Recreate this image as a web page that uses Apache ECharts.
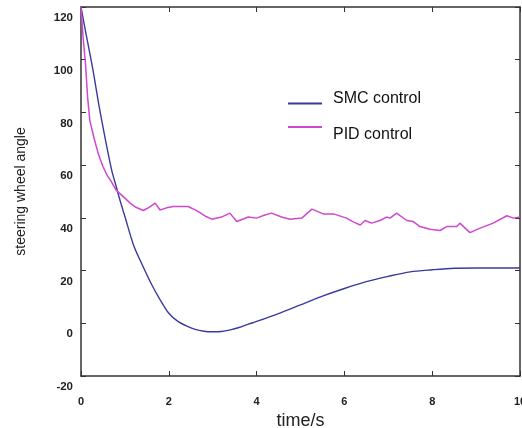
<!DOCTYPE html>
<html>
<head>
<meta charset="utf-8">
<script src="https://cdn.jsdelivr.net/npm/echarts@6/dist/echarts.min.js"></script>
<style>
html,body{margin:0;padding:0;background:#fff;}
#chart{width:522px;height:428px;}
</style>
</head>
<body>
<div id="chart"></div>
<script>
// ---- data ----
const seriesNames = ['SMC control', 'PID control'];
const smcTime  = [0, 0.1, 0.2, 0.3, 0.4, 0.5, 0.6, 0.7, 0.8, 0.9, 1.0, 1.2, 1.4, 1.6, 1.8, 2.0, 2.2, 2.4, 2.6, 2.8, 3.0, 3.2, 3.4, 3.6, 3.8, 4.0, 4.5, 5.0, 5.5, 6.0, 6.5, 7.0, 7.5, 8.0, 8.5, 9.0, 9.5, 10];
const smcValue = [120, 111, 102.5, 93.5, 83.5, 74.5, 66, 58, 52, 46, 40.5, 29.5, 22, 15, 9, 3.8, 0.8, -1, -2.3, -3, -3.2, -3.1, -2.5, -1.6, -0.4, 0.7, 3.7, 7, 10.3, 13.2, 15.8, 17.8, 19.5, 20.3, 20.9, 21, 21, 21];
const pidTime  = [0, 0.05, 0.1, 0.15, 0.2, 0.3, 0.4, 0.5, 0.6, 0.7, 0.8, 0.9, 1.0, 1.12, 1.25, 1.42, 1.55, 1.69, 1.8, 1.95, 2.1, 2.44, 2.6, 2.71, 2.85, 2.98, 3.2, 3.39, 3.55, 3.81, 4.0, 4.17, 4.34, 4.57, 4.76, 5.03, 5.26, 5.52, 5.75, 6.05, 6.2, 6.36, 6.47, 6.62, 6.81, 6.96, 7.04, 7.19, 7.42, 7.57, 7.72, 7.95, 8.18, 8.33, 8.56, 8.63, 8.86, 9.09, 9.39, 9.7, 9.85, 10];
const pidValue = [120, 108, 99, 86, 77, 70, 64, 59.5, 56, 53.5, 50.5, 49, 47.5, 45.6, 44, 42.8, 44, 45.6, 43, 43.8, 44.3, 44.3, 43, 42, 40.5, 39.5, 40.3, 41.8, 38.6, 40.3, 39.9, 41, 41.8, 40.3, 39.5, 39.9, 43.3, 41.5, 41.5, 39.9, 38.5, 37.3, 39, 38, 39, 40.3, 39.9, 41.8, 39, 38.6, 36.7, 35.7, 35.2, 36.7, 36.7, 38, 34.4, 36.1, 38, 40.8, 39.9, 40.3];
const xMin = 0, xMax = 10, xStep = 2;
const yMin = -20, yMax = 120, yStep = 20;
const xTitle = 'time/s';
const yTitle = 'steering wheel angle';

const smcData = smcTime.map((t, i) => [t, smcValue[i]]);
const pidData = pidTime.map((t, i) => [t, pidValue[i]]);

const axisColor = '#333';
const smcColor = '#3a3a9e';
const pidColor = '#cf48cf';
const font = 'Arial, "Liberation Sans", sans-serif';

const chart = echarts.init(document.getElementById('chart'), null, {renderer: 'canvas'});
const baseAxisLine = {show: true, onZero: false, lineStyle: {color: axisColor, width: 1.5}};
const baseTick = {show: true, inside: true, length: 5, lineStyle: {color: axisColor, width: 1}};

// legend icons: a short line placed inside a taller (invisible) box so the
// line sits slightly below / above the label, as in the reference
const iconSmc = 'path://M0,0L0.01,0L0.01,0.01ZM0,9L34,9L34,11L0,11Z';
const iconPid = 'path://M0,0L34,0L34,2L0,2ZM0,17.99L0.01,17.99L0.01,18Z';

chart.setOption({
  animation: false,
  backgroundColor: '#fff',
  grid: {left: 81, right: 2, top: 7, bottom: 52, containLabel: false, outerBoundsMode: 'none'},
  xAxis: [{
    type: 'value', min: xMin, max: xMax, interval: xStep, position: 'bottom',
    axisLine: baseAxisLine, axisTick: baseTick, splitLine: {show: false},
    axisLabel: {margin: 20, fontSize: 11, fontWeight: 'bold', fontFamily: font, color: '#222'},
    name: xTitle, nameLocation: 'middle', nameGap: 31,
    nameTextStyle: {fontSize: 18, fontFamily: font, color: '#222'}
  }, {
    type: 'value', min: xMin, max: xMax, interval: xStep, position: 'top',
    axisLine: baseAxisLine, axisTick: baseTick, splitLine: {show: false}, axisLabel: {show: false}
  }],
  yAxis: [{
    type: 'value', min: yMin, max: yMax, interval: yStep, position: 'left',
    axisLine: baseAxisLine, axisTick: baseTick, splitLine: {show: false},
    axisLabel: {margin: 8, fontSize: 11.5, fontWeight: 'bold', fontFamily: font, color: '#222',
                verticalAlign: 'top', padding: [5, 0, 0, 0]},
    name: yTitle, nameLocation: 'middle', nameGap: 53, nameRotate: 90,
    nameTextStyle: {fontSize: 14, fontFamily: font, color: '#222'}
  }, {
    type: 'value', min: yMin, max: yMax, interval: yStep, position: 'right',
    axisLine: baseAxisLine, axisTick: baseTick, splitLine: {show: false}, axisLabel: {show: false}
  }],
  legend: [{
    data: [seriesNames[0]], left: 288, top: 91, orient: 'horizontal', padding: 0,
    icon: iconSmc, itemWidth: 34, itemHeight: 11, itemStyle: {borderWidth: 0},
    textStyle: {fontSize: 16, fontFamily: font, color: '#111', padding: [0, 0, 0, 6]}
  }, {
    data: [seriesNames[1]], left: 288, top: 126, orient: 'horizontal', padding: 0,
    icon: iconPid, itemWidth: 34, itemHeight: 18, itemStyle: {borderWidth: 0},
    textStyle: {fontSize: 16, fontFamily: font, color: '#111', padding: [0, 0, 0, 6]}
  }],
  series: [{
    name: seriesNames[0], type: 'line', data: smcData, smooth: 0.3, showSymbol: false,
    lineStyle: {color: smcColor, width: 1.4}, itemStyle: {color: smcColor}
  }, {
    name: seriesNames[1], type: 'line', data: pidData, smooth: false, showSymbol: false,
    lineStyle: {color: pidColor, width: 1.5}, itemStyle: {color: pidColor}
  }]
});
</script>
</body>
</html>
